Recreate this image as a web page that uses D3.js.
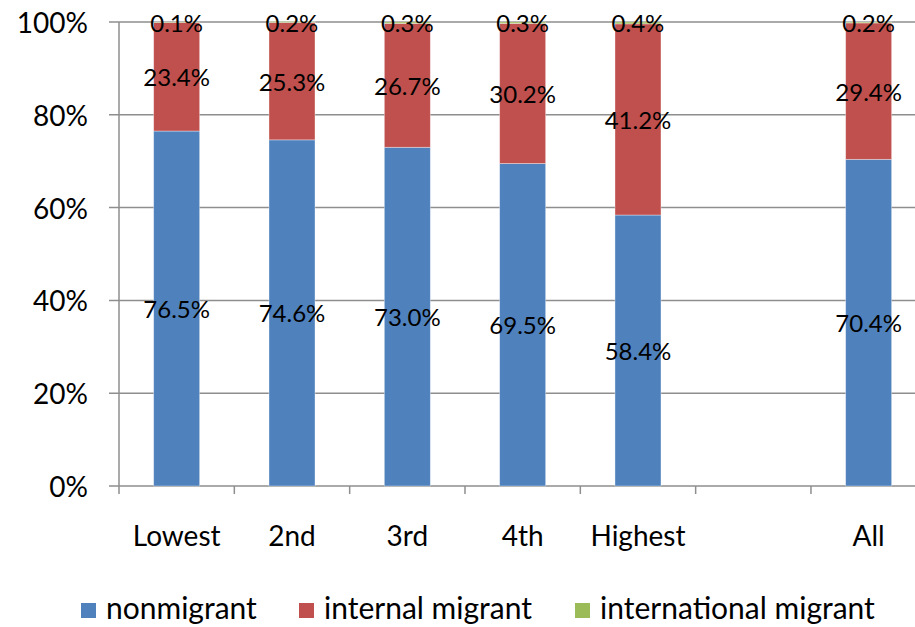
<!DOCTYPE html>
<html>
<head>
<meta charset="utf-8">
<script src="https://cdn.jsdelivr.net/npm/d3@7"></script>
<style>
  html, body { margin: 0; padding: 0; background: #fff; }
  svg { display: block; font-family: Lato, "Open Sans", sans-serif; }
</style>
</head>
<body>
<svg id="chart" width="915" height="627"></svg>
<script>
// Income quintiles (plus an empty spacer slot before the overall column)
const categories = ["Lowest", "2nd", "3rd", "4th", "Highest", "", "All"];
const seriesNames = ["nonmigrant", "internal migrant", "international migrant"];
const nonmigrant = [76.5, 74.6, 73.0, 69.5, 58.4, null, 70.4];
const internalMigrant = [23.4, 25.3, 26.7, 30.2, 41.2, null, 29.4];
const internationalMigrant = [0.1, 0.2, 0.3, 0.3, 0.4, null, 0.2];
const yTicks = [0, 20, 40, 60, 80, 100];
const colors = ["#4F81BD", "#C0504D", "#9BBB59"];

const svg = d3.select("#chart");
const plot = { left: 119, top: 22, bottom: 486, band: 115.33 };

const x = d3.scaleBand()
  .domain(d3.range(categories.length))
  .range([plot.left, plot.left + plot.band * categories.length])
  .paddingInner(0).paddingOuter(0);

const y = d3.scaleLinear().domain([0, 100]).range([plot.bottom, plot.top]);

// Horizontal gridlines with short outward tick marks
svg.append("g").selectAll("line")
  .data(yTicks)
  .join("line")
  .attr("x1", plot.left - 10).attr("x2", 915)
  .attr("y1", d => y(d)).attr("y2", d => y(d))
  .attr("stroke", "#8e8e8e").attr("stroke-width", 1.5);

// Y tick labels
svg.append("g").selectAll("text")
  .data(yTicks)
  .join("text")
  .attr("x", 88).attr("y", d => y(d))
  .attr("text-anchor", "end").attr("dominant-baseline", "central")
  .attr("font-size", 28).attr("fill", "#000")
  .text(d => d + "%");

// Vertical value axis line
svg.append("line")
  .attr("x1", plot.left).attr("x2", plot.left)
  .attr("y1", y(100)).attr("y2", y(0))
  .attr("stroke", "#8e8e8e").attr("stroke-width", 1.5);

// Category axis tick marks at band boundaries
const boundaries = d3.range(categories.length + 1).map(i => plot.left + i * x.bandwidth());
svg.append("g").selectAll("line")
  .data(boundaries)
  .join("line")
  .attr("x1", d => d).attr("x2", d => d)
  .attr("y1", y(0)).attr("y2", y(0) + 8)
  .attr("stroke", "#8e8e8e").attr("stroke-width", 1.5);

// Stacked bars
const rows = categories.map((c, i) => ({
  cat: i,
  "nonmigrant": nonmigrant[i],
  "internal migrant": internalMigrant[i],
  "international migrant": internationalMigrant[i]
})).filter(r => r.nonmigrant !== null);

const stack = d3.stack().keys(seriesNames);
const layers = stack(rows);
const barW = 46;

const layerG = svg.append("g").selectAll("g")
  .data(layers)
  .join("g")
  .attr("fill", (d, i) => colors[i]);

layerG.selectAll("rect")
  .data(d => d)
  .join("rect")
  .attr("x", d => x(d.data.cat) + x.bandwidth() / 2 - barW / 2)
  .attr("width", barW)
  .attr("y", d => y(d[1]))
  .attr("height", d => y(d[0]) - y(d[1]))
  .attr("stroke", "rgba(255,255,255,0.45)")
  .attr("stroke-width", 0.8);

// Data labels centred in each segment
const labelG = svg.append("g");
layers.forEach(layer => {
  labelG.selectAll(null)
    .data(layer)
    .join("text")
    .attr("x", d => x(d.data.cat) + x.bandwidth() / 2)
    .attr("y", d => y((d[0] + d[1]) / 2))
    .attr("text-anchor", "middle").attr("dominant-baseline", "central")
    .attr("font-size", 24).attr("fill", "#000")
    .text(d => d.data[layer.key].toFixed(1) + "%");
});

// Category labels
svg.append("g").selectAll("text")
  .data(categories.map((c, i) => ({ c, i })).filter(d => d.c))
  .join("text")
  .attr("x", d => x(d.i) + x.bandwidth() / 2)
  .attr("y", 546)
  .attr("text-anchor", "middle")
  .attr("font-size", 28).attr("fill", "#000")
  .text(d => d.c);

// Legend
const legendX = [81, 299, 575];
const legend = svg.append("g").selectAll("g")
  .data(seriesNames)
  .join("g")
  .attr("transform", (d, i) => `translate(${legendX[i]},603)`);
legend.append("rect")
  .attr("width", 15).attr("height", 15)
  .attr("fill", (d, i) => colors[i]);
legend.append("text")
  .attr("x", 25).attr("y", 16)
  .attr("font-size", 30).attr("fill", "#000")
  .text(d => d);
</script>
</body>
</html>
